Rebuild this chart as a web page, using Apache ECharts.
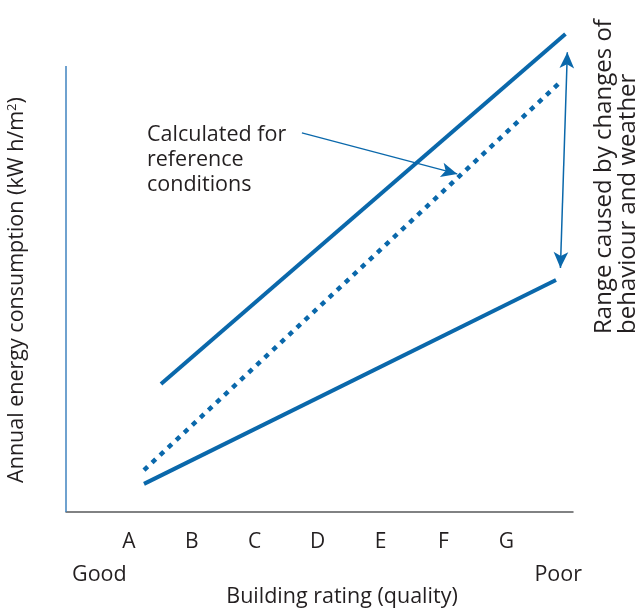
<!DOCTYPE html>
<html><head><meta charset="utf-8">
<script src="https://cdn.jsdelivr.net/npm/echarts@6/dist/echarts.min.js"></script>
<style>html,body{margin:0;padding:0;background:#fff}#c{width:640px;height:609px}</style>
</head><body><div id="c"></div>
<script>
// Category tick labels at positions 1..7
var categories = ['A','B','C','D','E','F','G'];
// Line end points [rating position, energy]
var upperLine = [[1.51, 28.7], [7.94, 107.2]];
var referenceLine = [[1.24, 9.4], [7.86, 96.4]];
var lowerLine = [[1.24, 6.3], [7.79, 52.0]];
var rangeArrow = [[7.97, 103.1], [7.86, 54.7]];
var noteArrow = [[3.75, 85.0], [6.22, 75.8]];
var yAxisLine = [[0, 0], [0, 100]];

var blue = '#0a68ab';
var font = '"Open Sans", "Noto Sans", sans-serif';
var txt = '#231f20';

var chart = echarts.init(document.getElementById('c'));
chart.setOption({
  animation: false,
  grid: { left: 66, right: 67, top: 21.4, bottom: 97 },
  xAxis: {
    type: 'value', min: 0, max: 8.06, interval: 1,
    axisLine: { lineStyle: { color: '#58595b', width: 1.5 } },
    axisTick: { show: false }, splitLine: { show: false },
    axisLabel: {
      margin: 20, fontSize: 21, color: txt, fontFamily: font,
      showMaxLabel: false,
      formatter: function (v) { var i = Math.round(v); return (i >= 1 && i <= categories.length) ? categories[i - 1] : ''; }
    }
  },
  yAxis: {
    type: 'value', min: 0, max: 110,
    axisLine: { show: false }, axisTick: { show: false },
    axisLabel: { show: false }, splitLine: { show: false }
  },
  series: [
    { type: 'line', data: yAxisLine, symbol: 'none', lineStyle: { color: '#3f83bf', width: 1.5 } },
    { type: 'line', data: upperLine, symbol: 'none', lineStyle: { color: blue, width: 4 } },
    { type: 'line', data: referenceLine, symbol: 'none', lineStyle: { color: blue, width: 4.5, type: [5, 6] } },
    { type: 'line', data: lowerLine, symbol: 'none', lineStyle: { color: blue, width: 4 },
      markLine: {
        silent: true, symbol: ['arrow', 'arrow'], symbolSize: [11, 16],
        label: { show: false },
        lineStyle: { color: blue, width: 1.5, type: 'solid' },
        data: [[{ coord: rangeArrow[0] }, { coord: rangeArrow[1] }]]
      }
    },
    { type: 'line', data: [], symbol: 'none',
      markLine: {
        silent: true, symbol: ['none', 'arrow'], symbolSize: [11, 16],
        label: { show: false },
        lineStyle: { color: blue, width: 1.2, type: 'solid' },
        data: [[{ coord: noteArrow[0] }, { coord: noteArrow[1] }]]
      }
    }
  ],
  graphic: [
    { type: 'text', x: 72, y: 575, style: { text: 'Good', font: '21.5px ' + font, fill: txt, align: 'left', verticalAlign: 'middle' } },
    { type: 'text', x: 582, y: 575, style: { text: 'Poor', font: '21.5px ' + font, fill: txt, align: 'right', verticalAlign: 'middle' } },
    { type: 'text', x: 342, y: 597, style: { text: 'Building rating (quality)', font: '21.5px ' + font, fill: txt, align: 'center', verticalAlign: 'middle' } },
    { type: 'text', x: 147, y: 122, style: { text: 'Calculated for\nreference\nconditions', font: '21.5px ' + font, fill: txt, lineHeight: 25 } },
    { type: 'text', x: 6, y: 290, rotation: Math.PI / 2,
      style: {
        text: 'Annual energy consumption (kW h/m{s|2})', font: '21.5px ' + font, fill: txt,
        align: 'center', verticalAlign: 'top',
        rich: { s: { fontSize: 13, verticalAlign: 'top', lineHeight: 13, fontFamily: font, fill: txt } }
      }
    },
    { type: 'text', x: 592, y: 334, rotation: Math.PI / 2,
      style: { text: 'Range caused by changes of\nbehaviour and weather', font: '24px ' + font, fill: txt, align: 'left', verticalAlign: 'top', lineHeight: 24 } }
  ]
});
</script></body></html>
